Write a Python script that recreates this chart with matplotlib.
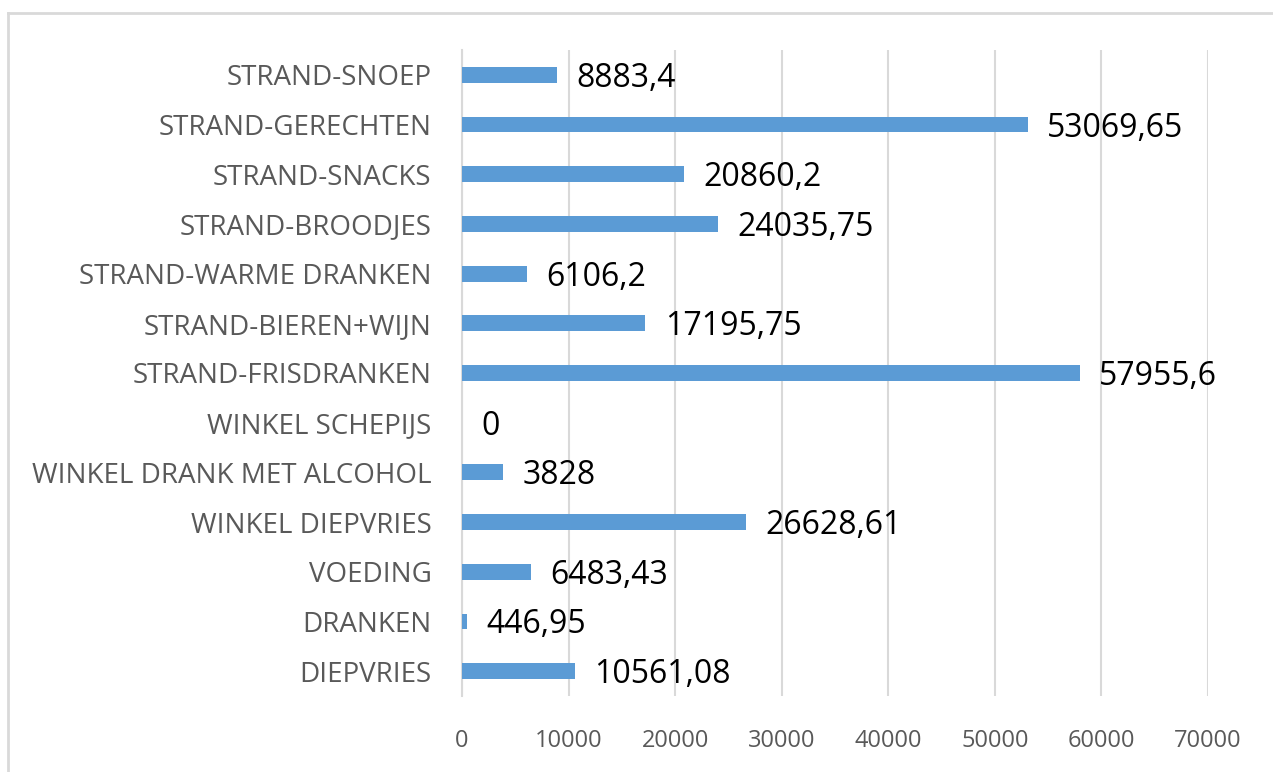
import matplotlib.pyplot as plt
from matplotlib.lines import Line2D

categories = [
    'DIEPVRIES', 'DRANKEN', 'VOEDING', 'WINKEL DIEPVRIES',
    'WINKEL DRANK MET ALCOHOL', 'WINKEL SCHEPIJS', 'STRAND-FRISDRANKEN',
    'STRAND-BIEREN+WIJN', 'STRAND-WARME DRANKEN', 'STRAND-BROODJES',
    'STRAND-SNACKS', 'STRAND-GERECHTEN', 'STRAND-SNOEP',
]
values = [10561.08, 446.95, 6483.43, 26628.61, 3828, 0, 57955.6,
          17195.75, 6106.2, 24035.75, 20860.2, 53069.65, 8883.4]
value_labels = ['10561,08', '446,95', '6483,43', '26628,61', '3828', '0', '57955,6',
                '17195,75', '6106,2', '24035,75', '20860,2', '53069,65', '8883,4']
x_ticks = [0, 10000, 20000, 30000, 40000, 50000, 60000, 70000]

W, H = 1273, 772
fig = plt.figure(figsize=(W / 100, H / 100), dpi=100)
ax = fig.add_axes([462 / W, 1 - 696 / H, (1208 - 462) / W, (696 - 50) / H])

pos = list(range(len(categories)))
ax.barh(pos, values, height=0.32, color='#5B9BD5', zorder=3)

for p, v, lab in zip(pos, values, value_labels):
    ax.annotate(lab, (v, p), xytext=(14, -2.5), textcoords='offset points',
                ha='left', va='center', fontsize=23, family='Open Sans', color='black')

ax.set_xlim(0, 70000)
ax.set_ylim(-0.5, len(categories) - 0.5)
ax.set_xticks(x_ticks)
ax.set_xticklabels([str(t) for t in x_ticks], family='Open Sans', fontsize=17, color='#595959')
ax.set_yticks(pos)
ax.set_yticklabels(categories, family='Open Sans', fontsize=20, color='#595959')
ax.tick_params(axis='both', length=0)
ax.tick_params(axis='x', pad=24)
ax.tick_params(axis='y', pad=22)

ax.grid(axis='x', color='#D9D9D9', linewidth=1.5, zorder=0)
for s in ['top', 'right', 'bottom']:
    ax.spines[s].set_visible(False)
ax.spines['left'].set_color('#D9D9D9')
ax.spines['left'].set_linewidth(1.5)

# outer frame (only top and left edges are visible)
fig.add_artist(Line2D([8 / W, 1], [1 - 13 / H, 1 - 13 / H], color='#D9D9D9', lw=2))
fig.add_artist(Line2D([8 / W, 8 / W], [0, 1 - 13 / H], color='#D9D9D9', lw=2))

fig.savefig('out.png', dpi=100)
